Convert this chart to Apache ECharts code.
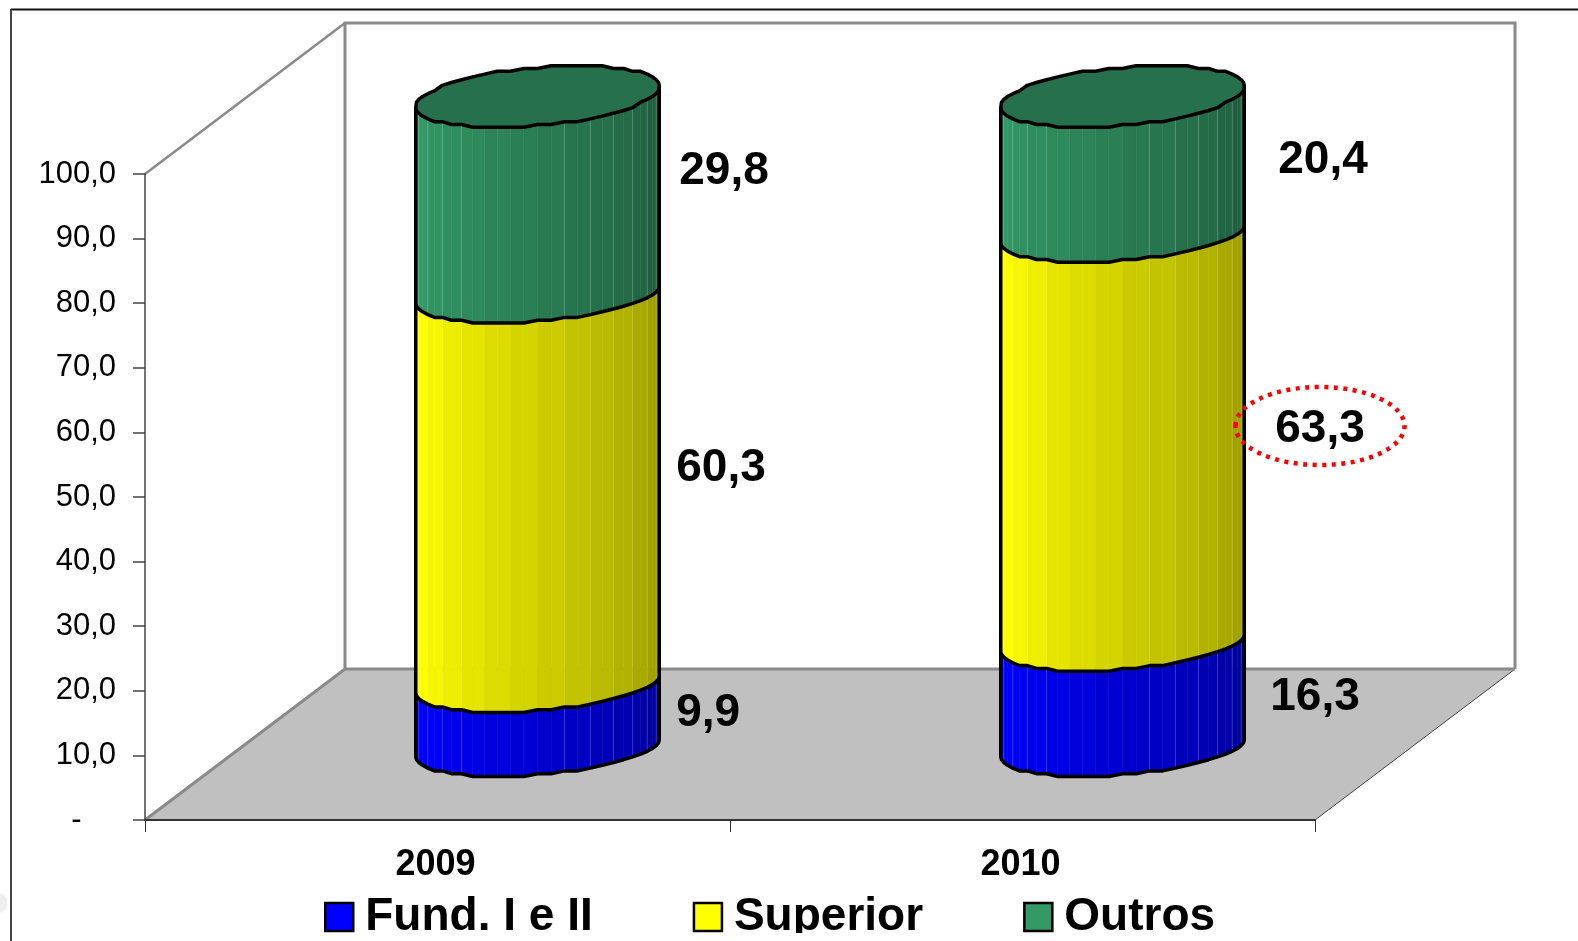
<!DOCTYPE html>
<html>
<head>
<meta charset="utf-8">
<style>
  html, body { margin: 0; padding: 0; background: #fff; }
  #chart { width: 1578px; height: 941px; }
</style>
<script src="https://cdn.jsdelivr.net/npm/echarts@6/dist/echarts.min.js"></script>
</head>
<body>
<div id="chart"></div>
<script>
const years = ['2009', '2010']
const fund = [9.9, 16.3]
const superior = [60.3, 63.3]
const outros = [29.8, 20.4]

const FONT = '"Liberation Sans", Arial, sans-serif'

// oblique projection of the chart box and of the cylinder rims
const WALL_X = 200
const WALL_Y = 151
const DEPTH_X = 100
const DEPTH_Y = 71.5
const RIM_A = 114.7
const RIM_B = 40.8
const RIM_C = 30.7
const FACETS = 28
const THETA0 = Math.atan2(RIM_B, RIM_A)
const CAP_LIFT = 6
const LOWER_RIM = 0.9 // the lower rims sag a little less than the cap

// hand placed labels in the original, dx from cylinder edge, dy from segment middle
const labelNudge = {
  'Fund. I e II': [[17, -3], [26, 1.5]],
  'Superior': [[17, -21], [31, -9]],
  'Outros': [[20, -27], [34, -7.6]]
}

function rimPoint(cx, cy, theta, sag) {
  const s = Math.sin(theta)
  const off = Math.round((RIM_C * s * sag) / 2.8) * 2.8
  return [cx + RIM_A * Math.cos(theta) + RIM_B * s, cy - off]
}

function frontRim(cx, cy, sag) {
  const pts = []
  for (let i = 0; i <= FACETS; i++) {
    pts.push(rimPoint(cx, cy, THETA0 + Math.PI + (i / FACETS) * Math.PI, sag))
  }
  return pts
}

function backRim(cx, cy) {
  const pts = []
  for (let i = 0; i <= FACETS; i++) {
    pts.push(rimPoint(cx, cy, THETA0 + (i / FACETS) * Math.PI, 1))
  }
  return pts
}

function shade(rgb, t) {
  const f = 1 - 0.42 * Math.max(0, t - 0.1) / 0.9
  return `rgb(${rgb.map(c => Math.round(c * f)).join(',')})`
}

function makeCylinderItem(rgb, name, isTop) {
  return function (params, api) {
    const idx = api.value(0)
    const base = api.coord([idx, api.value(1)])
    const top = api.coord([idx, api.value(2)])
    const cx = base[0] + DEPTH_X
    const y0 = base[1] - DEPTH_Y
    const y1 = top[1] - DEPTH_Y - (isTop ? CAP_LIFT : 0)
    const low = frontRim(cx, y0, LOWER_RIM)
    const high = frontRim(cx, y1, isTop ? 1 : LOWER_RIM)
    const children = []

    // side facets
    for (let i = 0; i < FACETS; i++) {
      const band = Math.floor(i / 2) * 2 + 1
      children.push({
        type: 'polygon',
        shape: { points: [low[i], low[i + 1], high[i + 1], high[i]] },
        style: { fill: shade(rgb, band / FACETS), stroke: shade(rgb, band / FACETS), lineWidth: 0.5 }
      })
    }
    // light seams between some facets
    for (let i = 2; i < FACETS; i += 2) {
      const t = i / FACETS
      if (t > 0.3 && t < 0.55) continue
      children.push({
        type: 'line',
        shape: { x1: low[i][0], y1: low[i][1], x2: high[i][0], y2: high[i][1] },
        style: { stroke: 'rgba(255,255,255,0.24)', lineWidth: 0.8 }
      })
    }
    // outline
    children.push({
      type: 'polyline',
      shape: { points: [high[0]].concat(low, [high[FACETS]]) },
      style: { stroke: '#000', lineWidth: 3.5, fill: null, lineJoin: 'round' }
    })

    if (isTop) {
      children.push({
        type: 'polygon',
        shape: { points: backRim(cx, y1).concat(high.slice(1, FACETS)) },
        style: { fill: '#27704E', stroke: '#000', lineWidth: 3.5, lineJoin: 'round' }
      })
    }

    // value label
    const nudge = labelNudge[name][idx]
    const edge = cx + Math.hypot(RIM_A, RIM_B)
    children.push({
      type: 'text',
      style: {
        x: edge + nudge[0],
        y: (base[1] + top[1]) / 2 - DEPTH_Y + nudge[1],
        text: api.value(3).toFixed(1).replace('.', ','),
        fontFamily: FONT,
        fontSize: 46,
        fontWeight: 'bold',
        fill: '#000',
        align: 'left',
        verticalAlign: 'middle'
      }
    })
    return { type: 'group', children }
  }
}

function renderBox(params) {
  const g = params.coordSys
  const left = g.x
  const right = g.x + g.width
  const topY = g.y
  const bottom = g.y + g.height
  const backLeft = left + WALL_X
  const backRight = right + WALL_X
  const backFloor = bottom - WALL_Y
  const backTop = topY - WALL_Y
  const grey = '#8A8A8A'
  return {
    type: 'group',
    children: [
      {
        type: 'polygon',
        shape: { points: [[left, bottom], [right, bottom], [backRight, backFloor], [backLeft, backFloor]] },
        style: { fill: '#C0C0C0' }
      },
      {
        type: 'line',
        shape: { x1: right, y1: bottom, x2: backRight, y2: backFloor },
        style: { stroke: '#444', lineWidth: 1 }
      },
      {
        type: 'polyline',
        shape: { points: [[left, bottom], [backLeft, backFloor], [backRight, backFloor]] },
        style: { stroke: grey, lineWidth: 3, fill: null }
      },
      {
        type: 'polyline',
        shape: { points: [[left, topY], [backLeft, backTop]] },
        style: { stroke: grey, lineWidth: 2.5, fill: null }
      },
      {
        type: 'polyline',
        shape: { points: [[backLeft, backFloor], [backLeft, backTop], [backRight, backTop], [backRight, backFloor]] },
        style: { stroke: grey, lineWidth: 3, fill: null }
      }
    ]
  }
}

function stackRows(values, below) {
  return values.map((v, i) => [i, below[i], below[i] + v, v])
}

const belowSuperior = fund
const belowOutros = fund.map((v, i) => v + superior[i])

const chart = echarts.init(document.getElementById('chart'))

function cylinderSeries(name, rgb, rows, isTop) {
  return {
    name,
    type: 'custom',
    coordinateSystem: 'cartesian2d',
    renderItem: makeCylinderItem(rgb, name, isTop),
    encode: { x: 0, y: [1, 2] },
    itemStyle: { color: `rgb(${rgb.join(',')})` },
    clip: false,
    silent: true,
    z: 3,
    data: rows
  }
}

chart.setOption({
  animation: false,
  backgroundColor: '#fff',
  grid: { left: 145, top: 174, width: 1170, height: 646, containLabel: false },
  xAxis: {
    type: 'category',
    data: years,
    boundaryGap: true,
    axisLine: { lineStyle: { color: '#333', width: 2 } },
    axisTick: { show: true, length: 12, alignWithLabel: false, lineStyle: { color: '#333', width: 1 } },
    axisLabel: {
      color: '#000',
      fontFamily: FONT,
      fontSize: 36,
      fontWeight: 'bold',
      margin: 27,
      padding: [0, 4, 0, 0]
    }
  },
  yAxis: {
    type: 'value',
    min: 0,
    max: 100,
    interval: 10,
    axisLine: { show: true, lineStyle: { color: '#444', width: 1.5 } },
    axisTick: { show: true, length: 12, lineStyle: { color: '#444', width: 1.5 } },
    splitLine: { show: false },
    axisLabel: {
      color: '#000',
      fontFamily: FONT,
      fontSize: 31,
      margin: 29,
      formatter: v => (v === 0 ? '-\u00A0\u00A0\u00A0\u00A0' : v.toFixed(1).replace('.', ','))
    }
  },
  legend: {
    left: 319,
    top: 889,
    itemWidth: 28,
    itemHeight: 28,
    itemGap: 100,
    icon: 'rect',
    selectedMode: false,
    itemStyle: { borderColor: '#000', borderWidth: 2.5 },
    textStyle: { color: '#000', fontFamily: FONT, fontSize: 46, fontWeight: 'bold', padding: [0, 0, 0, 7] },
    data: ['Fund. I e II', 'Superior', 'Outros']
  },
  series: [
    {
      name: 'box',
      type: 'custom',
      coordinateSystem: 'cartesian2d',
      renderItem: renderBox,
      silent: true,
      clip: false,
      z: -1,
      data: [[0, 0]]
    },
    cylinderSeries('Fund. I e II', [0, 0, 255], stackRows(fund, [0, 0]), false),
    cylinderSeries('Superior', [255, 255, 0], stackRows(superior, belowSuperior), false),
    cylinderSeries('Outros', [51, 153, 102], stackRows(outros, belowOutros), true)
  ],
  graphic: [
    // dotted ring the author put round the 2010 value
    {
      type: 'ellipse',
      z: 50,
      shape: { cx: 1320, cy: 426, rx: 84.5, ry: 39 },
      style: { fill: null, stroke: '#FF0000', lineWidth: 4.5, lineDash: [4, 5.5] }
    },
    // legend text is cut by the bottom of the pasted image
    { type: 'rect', z: 60, shape: { x: 0, y: 933, width: 1578, height: 8 }, style: { fill: '#fff' } },
    // faint smudge left of the frame
    {
      type: 'ellipse',
      z: 60,
      shape: { cx: 0, cy: 903, rx: 7, ry: 9 },
      style: { fill: '#efefef', shadowBlur: 4, shadowColor: '#efefef' }
    },
    // outer frame
    { type: 'line', z: 61, shape: { x1: 11, y1: 9.5, x2: 1578, y2: 9.5 }, style: { stroke: '#111', lineWidth: 2 } },
    { type: 'line', z: 61, shape: { x1: 11, y1: 9, x2: 11, y2: 941 }, style: { stroke: '#444', lineWidth: 2 } }
  ]
})
</script>
</body>
</html>
